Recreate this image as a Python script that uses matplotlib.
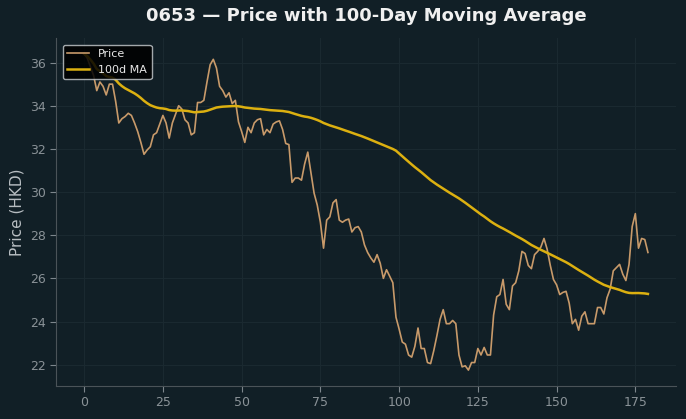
import numpy as np
import pandas as pd
import matplotlib
matplotlib.use("Agg")
import matplotlib.pyplot as plt

title = "0653 — Price with 100-Day Moving Average"
ylabel = "Price (HKD)"
price = [
    36.4, 36.2, 35.8, 35.4, 34.7, 35.1, 34.9, 34.5, 35.0, 35.0,
    34.2, 33.2, 33.4, 33.5, 33.65, 33.55, 33.2, 32.8, 32.3, 31.75,
    31.95, 32.1, 32.65, 32.75, 33.15, 33.55, 33.2, 32.5, 33.2, 33.6,
    34.0, 33.85, 33.35, 33.2, 32.65, 32.75, 34.15, 34.15, 34.25, 35.1,
    35.9, 36.15, 35.75, 34.9, 34.7, 34.4, 34.6, 34.1, 34.25, 33.25,
    32.8, 32.3, 33.0, 32.75, 33.2, 33.35, 33.4, 32.65, 32.9, 32.75,
    33.15, 33.25, 33.3, 32.9, 32.25, 32.2, 30.45, 30.65, 30.65, 30.55,
    31.3, 31.85, 30.9, 29.95, 29.4, 28.6, 27.4, 28.7, 28.85, 29.5,
    29.65, 28.7, 28.6, 28.7, 28.75, 28.15, 28.35, 28.4, 28.15, 27.55,
    27.2, 26.95, 26.75, 27.1, 26.7, 26.0, 26.4, 26.1, 25.8, 24.2,
    23.65, 23.05, 22.95, 22.45, 22.35, 22.85, 23.7, 22.75, 22.75, 22.1,
    22.05, 22.65, 23.35, 24.1, 24.55, 23.9, 23.9, 24.05, 23.9, 22.45,
    21.9, 21.95, 21.75, 22.1, 22.1, 22.75, 22.45, 22.8, 22.45, 22.45,
    24.3, 25.15, 25.25, 25.95, 24.8, 24.55, 25.65, 25.8, 26.35, 27.25,
    27.15, 26.6, 26.45, 27.1, 27.25, 27.45, 27.85, 27.35, 26.6, 25.95,
    25.7, 25.25, 25.35, 25.4, 24.85, 23.9, 24.1, 23.6, 24.25, 24.45,
    23.9, 23.9, 23.9, 24.65, 24.65, 24.35, 25.1, 25.5, 26.35, 26.5,
    26.65, 26.2, 25.9, 26.65, 28.4, 29.0, 27.4, 27.85, 27.8, 27.2,
]
days = np.arange(len(price))
ma100 = pd.Series(price).rolling(100, min_periods=1).mean()

bg = "#111f26"
fig = plt.figure(figsize=(6.86, 4.19), dpi=100, facecolor=bg)
ax = fig.add_axes([0.0816, 0.079, 0.904, 0.830], facecolor=bg)

ax.plot(days, price, color="#c89a6a", lw=1.2, label="Price", zorder=3)
ax.plot(days, ma100, color="#dcb010", lw=1.8, label="100d MA", zorder=4)

ax.set_title(title, color="#f0f0f0", fontsize=13, fontweight="bold", pad=12)
ax.set_ylabel(ylabel, color="#b8bec2", fontsize=11)
ax.set_xticks([0, 25, 50, 75, 100, 125, 150, 175])
ax.set_yticks([22, 24, 26, 28, 30, 32, 34, 36])
ax.tick_params(colors="#7d868c", labelcolor="#8a9297", labelsize=9, length=4)
ax.grid(True, color="#1a2930", lw=0.8)
for s in ["top", "right"]:
    ax.spines[s].set_visible(False)
for s in ["left", "bottom"]:
    ax.spines[s].set_color("#4a5358")

leg = ax.legend(loc="upper left", fontsize=8, facecolor="#000000",
                edgecolor="#bfc4c7", framealpha=0.85, labelcolor="#e8e8e8",
                borderaxespad=0.6)
leg.get_frame().set_linewidth(1.0)

fig.savefig("out.png", dpi=100, facecolor=bg)
